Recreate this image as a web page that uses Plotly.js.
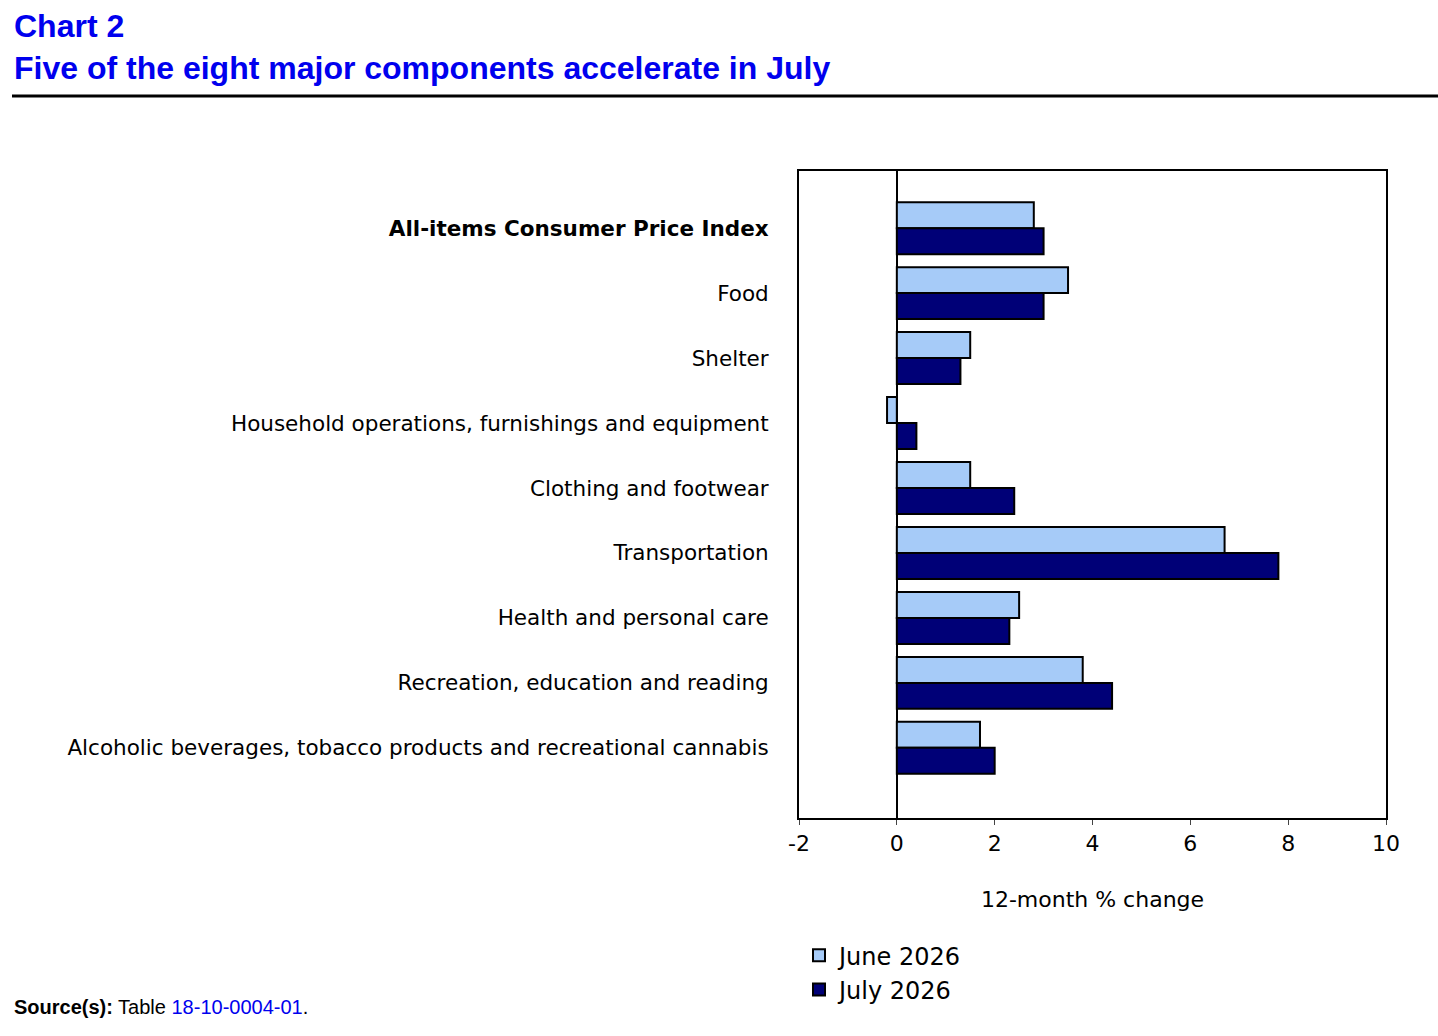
<!DOCTYPE html>
<html><head><meta charset="utf-8">
<script src="https://cdn.plot.ly/plotly-3.0.1.min.js"></script>
<style>body{margin:0}#c{width:1438px;height:1036px}</style></head>
<body><div id="c"></div>
<script>
const categories = ["<b>All-items Consumer Price Index</b>","Food","Shelter","Household operations, furnishings and equipment","Clothing and footwear","Transportation","Health and personal care","Recreation, education and reading","Alcoholic beverages, tobacco products and recreational cannabis"];
const june2026 = [2.8,3.5,1.5,-0.2,1.5,6.7,2.5,3.8,1.7];
const july2026 = [3.0,3.0,1.3,0.4,2.4,7.8,2.3,4.4,2.0];
const xTicks = [-2,0,2,4,6,8,10];
const traces = [
 {type:'bar',orientation:'h',name:'June 2026',y:categories,x:june2026,marker:{color:'#a6cbf8',line:{color:'#000',width:2}}},
 {type:'bar',orientation:'h',name:'July 2026',y:categories,x:july2026,marker:{color:'#000077',line:{color:'#000',width:2}}}
];
const layout = {
 width:1438,height:1036,margin:{l:799,r:52,t:171,b:218},
 paper_bgcolor:'#fff',plot_bgcolor:'#fff',
 font:{family:'DejaVu Sans, Verdana, sans-serif',color:'#000',size:20},
 barmode:'group',bargap:0.2,bargroupgap:0,
 xaxis:{range:[-2,10],tickvals:xTicks,ticktext:xTicks.map(String),showgrid:false,zeroline:true,zerolinecolor:'#000',zerolinewidth:2,
   showline:true,mirror:true,linecolor:'#000',linewidth:2,ticks:'outside',ticklen:5,tickfont:{size:22},
   title:{text:'12-month % change',font:{size:22},standoff:36}},
 yaxis:{range:[9.08,-0.88],showline:true,mirror:true,linecolor:'#000',linewidth:2,ticks:'',showgrid:false,tickfont:{size:21.5},ticklabelstandoff:24},
 legend:{orientation:'h',x:0,xanchor:'left',y:-0.178,yanchor:'top',entrywidth:280,entrywidthmode:'pixels',font:{size:24},traceorder:'normal'},
 showlegend:true,
 shapes:[{type:'line',xref:'paper',yref:'paper',x0:(12-799)/587,x1:1.09,y0:(818-96)/647,y1:(818-96)/647,line:{color:'#000',width:3}}],
 annotations:[
  {xref:'paper',yref:'paper',x:(12-799)/587,y:(818-88)/647,xanchor:'left',yanchor:'bottom',showarrow:false,align:'left',
   text:'<b>Chart 2<br>Five of the eight major components accelerate in July</b>',font:{family:'Liberation Sans, Arial, sans-serif',size:32,color:'#0000ee'}},
  {xref:'paper',yref:'paper',x:(12-799)/587,y:(818-994)/647,xanchor:'left',yanchor:'top',showarrow:false,
   text:'<b>Source(s):</b> Table <span style="color:#0000ee">18-10-0004-01</span>.',font:{family:'Liberation Sans, Arial, sans-serif',size:20,color:'#000'}}
 ]
};
Plotly.newPlot('c',traces,layout,{displayModeBar:false});
</script></body></html>
